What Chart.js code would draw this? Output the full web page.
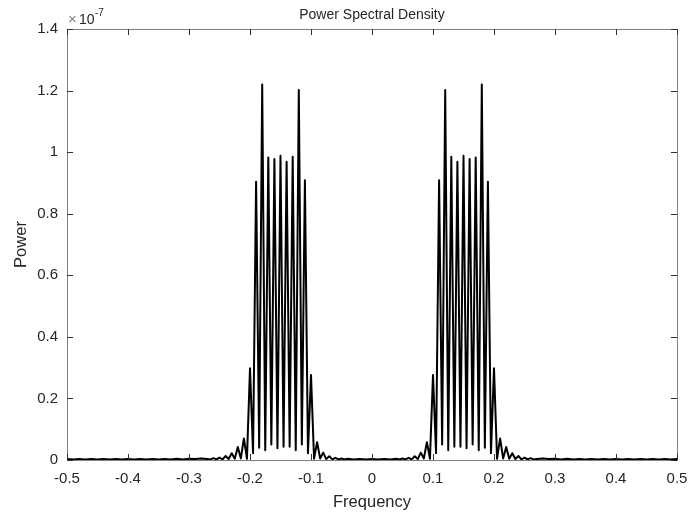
<!DOCTYPE html>
<html>
<head>
<meta charset="utf-8">
<title>Power Spectral Density</title>
<script src="https://cdn.jsdelivr.net/npm/chart.js@4.4.1/dist/chart.umd.min.js"></script>
<style>
    html, body { margin: 0; padding: 0; background: #ffffff; }
    #wrap { width: 689px; height: 513px; }
</style>
</head>
<body>
<div id="wrap"><canvas id="psdChart" width="689" height="513"></canvas></div>
<script>
// frequency axis (cycles/sample)
const freqs = [
    -0.50, -0.49, -0.48, -0.47, -0.46, -0.45, -0.44, -0.43, -0.42, -0.41,
    -0.40, -0.39, -0.38, -0.37, -0.36, -0.35, -0.34, -0.33, -0.32, -0.31,
    -0.30, -0.29, -0.28, -0.27,
    -0.265, -0.26, -0.255, -0.25, -0.245, -0.24, -0.235, -0.23, -0.225, -0.22,
    -0.215, -0.21, -0.205, -0.20, -0.195, -0.19, -0.185, -0.18, -0.175, -0.17,
    -0.165, -0.16, -0.155, -0.15, -0.145, -0.14, -0.135, -0.13, -0.125, -0.12,
    -0.115, -0.11, -0.105, -0.10, -0.095, -0.09, -0.085, -0.08, -0.075, -0.07,
    -0.065, -0.06, -0.055, -0.05, -0.045,
    -0.04, -0.03, -0.02, -0.01, 0.00, 0.01, 0.02, 0.03, 0.04,
    0.045, 0.05, 0.055, 0.06, 0.065, 0.07, 0.075, 0.08, 0.085, 0.09,
    0.095, 0.10, 0.105, 0.11, 0.115, 0.12, 0.125, 0.13, 0.135, 0.14,
    0.145, 0.15, 0.155, 0.16, 0.165, 0.17, 0.175, 0.18, 0.185, 0.19,
    0.195, 0.20, 0.205, 0.21, 0.215, 0.22, 0.225, 0.23, 0.235, 0.24,
    0.245, 0.25, 0.255, 0.26, 0.265,
    0.27, 0.28, 0.29, 0.30, 0.31, 0.32, 0.33, 0.34, 0.35, 0.36,
    0.37, 0.38, 0.39, 0.40, 0.41, 0.42, 0.43, 0.44, 0.45, 0.46,
    0.47, 0.48, 0.49, 0.50
];

// power, in units of 1e-7
const power = [
    0.003, 0.002, 0.003, 0.002, 0.003, 0.002, 0.003, 0.002, 0.003, 0.002,
    0.003, 0.002, 0.003, 0.002, 0.003, 0.002, 0.003, 0.002, 0.004, 0.002,
    0.004, 0.003, 0.005, 0.003,
    0.002, 0.006, 0.002, 0.008, 0.002, 0.013, 0.003, 0.022, 0.004, 0.042,
    0.005, 0.070, 0.004, 0.298, 0.022, 0.904, 0.040, 1.220, 0.032, 0.983,
    0.050, 0.978, 0.038, 0.988, 0.043, 0.969, 0.043, 0.985, 0.032, 1.202,
    0.050, 0.909, 0.022, 0.276, 0.004, 0.058, 0.005, 0.024, 0.003, 0.012,
    0.002, 0.007, 0.002, 0.005, 0.002,
    0.004, 0.002, 0.003, 0.002, 0.003, 0.002, 0.003, 0.002, 0.004,
    0.002, 0.005, 0.002, 0.007, 0.002, 0.012, 0.003, 0.024, 0.005, 0.058,
    0.004, 0.276, 0.022, 0.909, 0.050, 1.202, 0.032, 0.985, 0.043, 0.969,
    0.043, 0.988, 0.038, 0.978, 0.050, 0.983, 0.032, 1.220, 0.040, 0.904,
    0.022, 0.298, 0.004, 0.070, 0.005, 0.042, 0.004, 0.022, 0.003, 0.013,
    0.002, 0.008, 0.002, 0.006, 0.002,
    0.003, 0.005, 0.003, 0.004, 0.002, 0.004, 0.002, 0.003, 0.002, 0.003,
    0.002, 0.003, 0.002, 0.003, 0.002, 0.003, 0.002, 0.003, 0.002, 0.003,
    0.002, 0.003, 0.002, 0.003
];

const xTicks = [-0.5, -0.4, -0.3, -0.2, -0.1, 0, 0.1, 0.2, 0.3, 0.4, 0.5];
const xTickLabels = ['-0.5', '-0.4', '-0.3', '-0.2', '-0.1', '0', '0.1', '0.2', '0.3', '0.4', '0.5'];
const yTicks = [0, 0.2, 0.4, 0.6, 0.8, 1, 1.2, 1.4];
const yTickLabels = ['0', '0.2', '0.4', '0.6', '0.8', '1', '1.2', '1.4'];

const FONT = '"Liberation Sans", Arial, Helvetica, sans-serif';
const TEXT_COLOR = '#262626';

// 박스 테두리, 안쪽 눈금, 제목, 축 이름, 지수 표시
const matlabAxes = {
    id: 'matlabAxes',
    afterDraw(chart) {
        const ctx = chart.ctx;
        const a = chart.chartArea;
        const xs = chart.scales.x;
        const ys = chart.scales.y;
        const tl = 6;

        ctx.save();
        // box
        ctx.strokeStyle = '#808080';
        ctx.lineWidth = 1;
        ctx.strokeRect(Math.round(a.left) + 0.5, Math.round(a.top) + 0.5,
            Math.round(a.right - a.left), Math.round(a.bottom - a.top));

        // ticks pointing inward on all four sides
        ctx.strokeStyle = '#333333';
        ctx.beginPath();
        xTicks.forEach(v => {
            const px = Math.round(xs.getPixelForValue(v)) + 0.5;
            ctx.moveTo(px, a.bottom); ctx.lineTo(px, a.bottom - tl);
            ctx.moveTo(px, a.top); ctx.lineTo(px, a.top + tl);
        });
        yTicks.forEach(v => {
            const py = Math.round(ys.getPixelForValue(v)) + 0.5;
            ctx.moveTo(a.left, py); ctx.lineTo(a.left + tl, py);
            ctx.moveTo(a.right, py); ctx.lineTo(a.right - tl, py);
        });
        ctx.stroke();

        ctx.fillStyle = TEXT_COLOR;
        // title
        ctx.font = '14px ' + FONT;
        ctx.textAlign = 'center';
        ctx.textBaseline = 'alphabetic';
        ctx.fillText('Power Spectral Density', (a.left + a.right) / 2, 19);

        // x axis name
        ctx.font = '16.5px ' + FONT;
        ctx.fillText('Frequency', (a.left + a.right) / 2, 507);

        // y axis name
        ctx.save();
        ctx.translate(26, (a.top + a.bottom) / 2);
        ctx.rotate(-Math.PI / 2);
        ctx.fillText('Power', 0, 0);
        ctx.restore();

        // exponent  ×10^-7
        ctx.textAlign = 'left';
        ctx.font = '15px ' + FONT;
        ctx.fillStyle = '#808080';
        ctx.fillText('\u00d7', a.left + 1, 24);
        ctx.fillStyle = TEXT_COLOR;
        ctx.font = '14px ' + FONT;
        ctx.fillText('10', a.left + 12, 24);
        ctx.font = '10px ' + FONT;
        ctx.fillText('-7', a.left + 28, 16);
        ctx.restore();
    }
};

function createPsdChart() {
    const ctx = document.getElementById('psdChart').getContext('2d');
    const points = freqs.map((f, i) => ({ x: f, y: power[i] }));

    return new Chart(ctx, {
        type: 'line',
        data: {
            datasets: [{
                label: 'PSD',
                data: points,
                borderColor: '#000000',
                borderWidth: 2,
                borderJoinStyle: 'round',
                pointRadius: 0,
                tension: 0,
                fill: false
            }]
        },
        options: {
            responsive: false,
            animation: false,
            devicePixelRatio: 1,
            layout: { padding: { left: 0, right: 12, top: 29, bottom: 0 } },
            plugins: {
                legend: { display: false },
                title: { display: false },
                tooltip: { enabled: false }
            },
            scales: {
                x: {
                    type: 'linear',
                    min: -0.5,
                    max: 0.5,
                    afterBuildTicks: s => { s.ticks = xTicks.map(v => ({ value: v })); },
                    afterFit: s => { s.height = 53; s.paddingLeft = 0; s.paddingRight = 0; },
                    grid: { display: false, drawTicks: false },
                    border: { display: false },
                    ticks: {
                        padding: 10,
                        color: TEXT_COLOR,
                        font: { family: FONT, size: 15 },
                        maxRotation: 0,
                        callback: (v, i) => xTickLabels[i]
                    }
                },
                y: {
                    type: 'linear',
                    min: 0,
                    max: 1.4,
                    afterBuildTicks: s => { s.ticks = yTicks.map(v => ({ value: v })); },
                    afterFit: s => { s.width = 67; s.paddingTop = 0; s.paddingBottom = 0; },
                    grid: { display: false, drawTicks: false },
                    border: { display: false },
                    ticks: {
                        padding: 9,
                        color: TEXT_COLOR,
                        font: { family: FONT, size: 15 },
                        callback: (v, i) => yTickLabels[i]
                    }
                }
            }
        },
        plugins: [matlabAxes]
    });
}

document.addEventListener('DOMContentLoaded', function() {
    createPsdChart();
});
</script>
</body>
</html>
